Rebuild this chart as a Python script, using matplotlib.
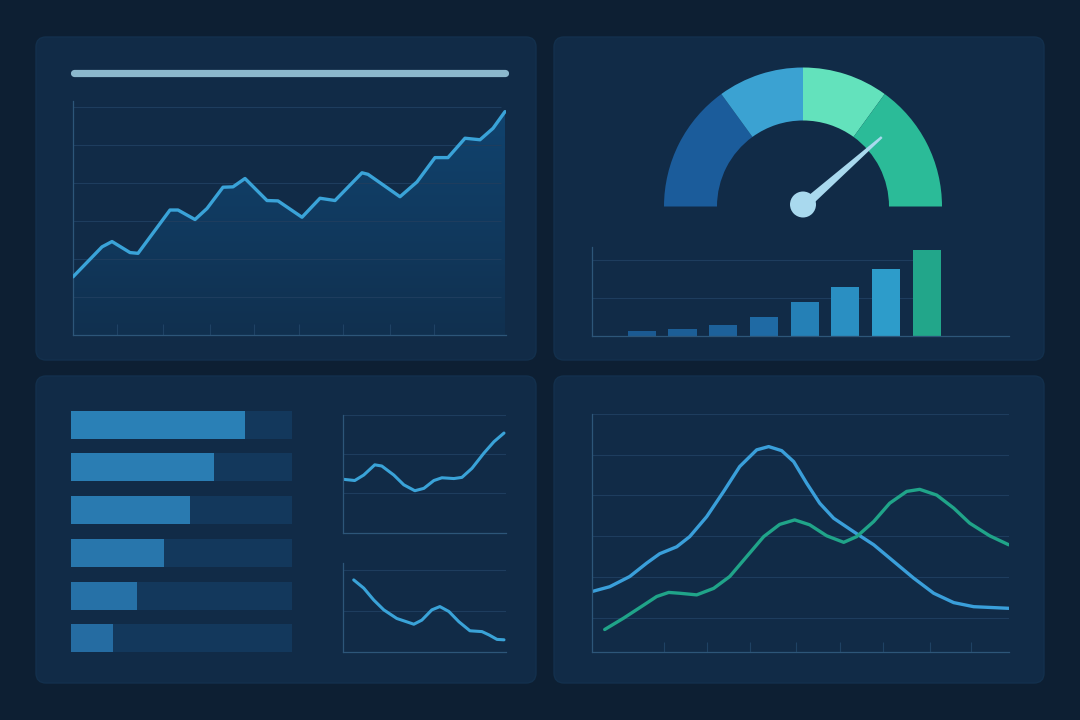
import numpy as np
import matplotlib
matplotlib.use("Agg")
import matplotlib.pyplot as plt
from matplotlib.patches import FancyBboxPatch, Wedge, Circle, Polygon
from matplotlib.colors import LinearSegmentedColormap

# ---- data ----
# top-left trend line
trend_x = [0, 29, 39, 57, 65, 97, 105, 122, 134, 150, 160, 172, 194, 205,
           229, 247, 262, 289, 295, 327, 344, 362, 375, 392, 407, 420, 432]
trend_y = [1.53, 2.32, 2.46, 2.17, 2.15, 3.29, 3.29, 3.04, 3.33, 3.89, 3.90,
           4.12, 3.54, 3.53, 3.10, 3.60, 3.54, 4.27, 4.23, 3.64, 4.03, 4.67,
           4.67, 5.18, 5.14, 5.44, 5.88]
trend_ticks = [44, 90, 137, 181, 226, 270, 317, 361]

# gauge
gauge_parts = [30, 20, 20, 30]
gauge_colors = ['#1b5c9b', '#3ba2d2', '#63e2bc', '#2bbb98']
needle_value = 77

# column chart
col_values = [0.12, 0.175, 0.29, 0.5, 0.895, 1.27, 1.75, 2.24]
col_colors = ['#1b5a92', '#1c5e96', '#1d619a', '#1f6aa4', '#2580b6',
              '#2a8fc2', '#2d9cca', '#22a68a']

# horizontal progress bars
hbar_values = [79, 65, 54, 42, 30, 19]

# small line charts
mini1_x = [1, 12, 21, 32, 39, 51, 61, 72, 81, 91, 99, 111, 119, 129, 141,
           151, 161]
mini1_y = [1.36, 1.33, 1.47, 1.73, 1.70, 1.47, 1.22, 1.07, 1.13, 1.33, 1.40,
           1.38, 1.41, 1.64, 2.03, 2.32, 2.54]
mini2_x = [11, 21, 31, 41, 54, 71, 79, 89, 97, 106, 116, 127, 139, 146, 154,
           161]
mini2_y = [1.75, 1.55, 1.26, 1.02, 0.81, 0.67, 0.77, 1.02, 1.10, 0.98, 0.73,
           0.51, 0.49, 0.41, 0.30, 0.29]

# two-series line chart
blue_x = [0, 18, 38, 55, 68, 85, 98, 115, 132, 148, 165, 177, 190, 202, 215,
          228, 242, 262, 282, 302, 322, 342, 362, 382, 417]
blue_y = [1.64, 1.76, 2.01, 2.34, 2.57, 2.74, 2.99, 3.48, 4.10, 4.71, 5.12,
          5.20, 5.10, 4.83, 4.30, 3.81, 3.44, 3.11, 2.79, 2.38, 1.97, 1.60,
          1.37, 1.27, 1.23]
green_x = [13, 32, 52, 65, 77, 88, 105, 122, 138, 155, 172, 188, 203, 218,
           235, 252, 265, 282, 298, 315, 328, 345, 362, 378, 398, 417]
green_y = [0.71, 0.99, 1.31, 1.52, 1.62, 1.60, 1.56, 1.72, 2.01, 2.50, 2.99,
           3.29, 3.40, 3.28, 3.01, 2.85, 2.99, 3.36, 3.81, 4.10, 4.15, 4.01,
           3.69, 3.32, 3.01, 2.79]
big_ticks = [72, 115, 158, 204, 248, 291, 338, 379]

BG = '#0d1f33'
PANEL = '#112b47'
GRID = '#1e3d5e'
SPINE = '#2d5679'
LINE_BLUE = '#3aa3d8'

W, H = 1080, 720
fig = plt.figure(figsize=(10.8, 7.2), dpi=100)
fig.patch.set_facecolor(BG)

# background layer in pixel units (y up)
bg = fig.add_axes([0, 0, 1, 1])
bg.set_xlim(0, W)
bg.set_ylim(0, H)
bg.axis('off')


def panel(x0, y0, x1, y1):
    p = FancyBboxPatch((x0, H - y1), x1 - x0, y1 - y0,
                       boxstyle="round,pad=0,rounding_size=10",
                       facecolor=PANEL, edgecolor='#13304d', lw=1.0)
    bg.add_patch(p)


for box in [(36, 37, 536, 360), (554, 37, 1044, 360),
            (36, 376, 536, 683), (554, 376, 1044, 683)]:
    panel(*box)


def px_axes(x0, y0, x1, y1):
    ax = fig.add_axes([x0 / W, 1 - y1 / H, (x1 - x0) / W, (y1 - y0) / H])
    ax.set_facecolor('none')
    for s in ['top', 'right']:
        ax.spines[s].set_visible(False)
    for s in ['left', 'bottom']:
        ax.spines[s].set_color(SPINE)
        ax.spines[s].set_linewidth(0.9)
    ax.set_yticks([])
    ax.set_xticks([])
    return ax


# ---- panel 1: title bar + area line ----
bg.plot([74, 505], [H - 73, H - 73], color='#8cb8cd', lw=5.2,
        solid_capstyle='round')

ax1 = px_axes(73, 101, 506, 335)
ax1.set_xlim(0, 433)
ax1.set_ylim(0, 6.16)
ax1.hlines(range(1, 7), 0, 428, color=GRID, lw=0.8)
poly = ax1.fill_between(trend_x, trend_y, 0, facecolor='none', edgecolor='none')
grad = np.linspace(1, 0, 256).reshape(-1, 1)
cmap = LinearSegmentedColormap.from_list('fill', ['#10304f', '#114470'])
img = ax1.imshow(grad, extent=[0, 433, 0, 6.16], aspect='auto', cmap=cmap,
                 zorder=1)
img.set_clip_path(poly.get_paths()[0], transform=ax1.transData)
ax1.plot(trend_x, trend_y, color=LINE_BLUE, lw=2.4, solid_joinstyle='round',
         solid_capstyle='round', zorder=3)
ax1.set_xlim(0, 433)
ax1.set_ylim(0, 6.16)
ax1.set_xticks(trend_ticks)
ax1.tick_params(axis='x', direction='in', length=8, color='#1f4264',
                labelbottom=False)

# ---- panel 2: gauge ----
cx, cy = 803, H - 206.5
start = 180.0
for part, col in zip(gauge_parts, gauge_colors):
    span = 180.0 * part / sum(gauge_parts)
    bg.add_patch(Wedge((cx, cy), 139, start - span, start, width=53,
                       facecolor=col, edgecolor='none'))
    start -= span

ang = np.radians(180.0 * (1 - needle_value / 100))
L = 105
d = np.array([np.cos(ang), np.sin(ang)])
n = np.array([-d[1], d[0]])
base = np.array([cx, cy])
needle = Polygon([base + n * 5, base - n * 5, base + d * L - n * 1.2,
                  base + d * L + n * 1.2], closed=True,
                 facecolor='#a9d9ee', edgecolor='none')
bg.add_patch(needle)
bg.add_patch(Circle((cx, cy + 2), 13, facecolor='#a9d9ee', edgecolor='none'))

# column chart
ax2 = px_axes(591.7, 247, 1009, 335.7)
ax2.set_xlim(-1.23, 9.02)
ax2.set_ylim(0, 2.33)
ax2.hlines([1, 2], -1.23, 7, color=GRID, lw=0.8, zorder=0)
idx = np.arange(len(col_values))
ax2.bar(idx, col_values, width=0.69, color=col_colors, zorder=2)

# ---- panel 3: progress bars + two mini lines ----
ax3 = fig.add_axes([70.7 / W, 1 - 652.3 / H, 221 / W, (652.3 - 410.7) / H])
ax3.set_facecolor('none')
ax3.axis('off')
rows = np.arange(len(hbar_values))
ax3.barh(rows, [100] * len(rows), height=0.656, color='#13385c')
ax3.barh(rows, hbar_values, height=0.656,
         color=['#2a80b6', '#2a7db3', '#297ab0', '#2876ac', '#2671a7', '#256ca2'])
ax3.set_xlim(0, 100)
ax3.set_ylim(5.328, -0.328)

ax4 = px_axes(342.7, 415, 506, 532.7)
ax4.set_xlim(0, 163)
ax4.set_ylim(0, 3)
ax4.hlines([1, 2, 3], 0, 163, color=GRID, lw=0.8)
ax4.plot(mini1_x, mini1_y, color=LINE_BLUE, lw=2.2, solid_joinstyle='round',
         solid_capstyle='round')

ax5 = px_axes(342.7, 562.7, 506, 651.7)
ax5.set_xlim(0, 163)
ax5.set_ylim(0, 2.17)
ax5.hlines([1, 2], 0, 163, color=GRID, lw=0.8)
ax5.plot(mini2_x, mini2_y, color=LINE_BLUE, lw=2.2, solid_joinstyle='round',
         solid_capstyle='round')

# ---- panel 4: two series ----
ax6 = px_axes(591.7, 414, 1009.3, 651.7)
ax6.set_xlim(0, 417.6)
ax6.set_ylim(0.165, 6)
ax6.hlines(range(1, 7), 0, 417.6, color=GRID, lw=0.8)
ax6.plot(blue_x, blue_y, color='#3a9fda', lw=2.4, solid_joinstyle='round',
         solid_capstyle='round')
ax6.plot(green_x, green_y, color='#20a489', lw=2.4, solid_joinstyle='round',
         solid_capstyle='round')
ax6.set_xticks(big_ticks)
ax6.tick_params(axis='x', direction='in', length=7, color='#1f4264',
                labelbottom=False)

fig.savefig('out.png', dpi=100, facecolor=BG)
